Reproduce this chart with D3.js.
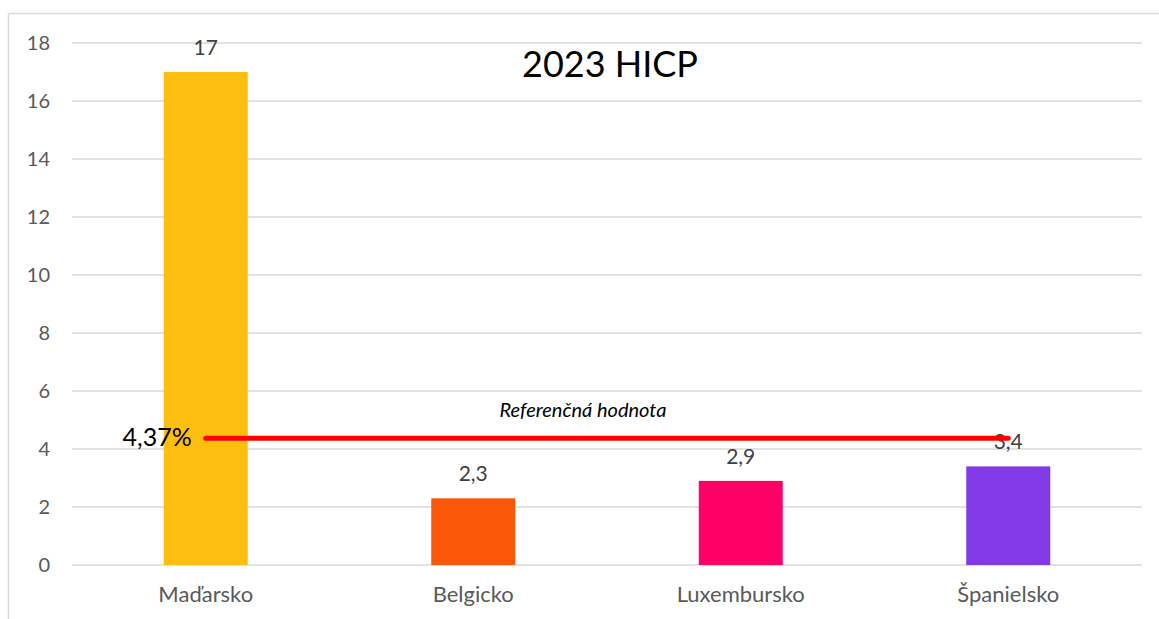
<!DOCTYPE html>
<html><head><meta charset="utf-8">
<script src="https://cdn.jsdelivr.net/npm/d3@7"></script>
<style>body{margin:0;background:#fff;} text{font-family:Lato,"Noto Sans",sans-serif;}</style>
</head><body>
<svg id="c" width="1159" height="619"></svg>
<script>
const categories = ["Maďarsko","Belgicko","Luxembursko","Španielsko"];
const values = [17, 2.3, 2.9, 3.4];
const valueLabels = ["17","2,3","2,9","3,4"];
const colors = ["#FEBE10","#FC580C","#FF0066","#8239E8"];
const yTicks = [0,2,4,6,8,10,12,14,16,18];
const referenceValue = 4.37;
const referenceLabel = "4,37%";
const referenceText = "Referenčná hodnota";
const title = "2023 HICP";

(function(){
const svg = d3.select("#c");
svg.append("line").attr("x1",8.5).attr("x2",1159).attr("y1",13.5).attr("y2",13.5).attr("stroke","#d9d9d9").attr("stroke-width",1.5);
svg.append("line").attr("x1",8.5).attr("x2",8.5).attr("y1",13.5).attr("y2",619).attr("stroke","#d9d9d9").attr("stroke-width",1.5);

const pLeft=72, pRight=1142, pTop=43, pBottom=565;
const x = d3.scaleBand().domain(categories).range([pLeft,pRight]).paddingInner(0.686).paddingOuter(0.343);
const y = d3.scaleLinear().domain([0,18]).range([pBottom,pTop]);

svg.append("g").selectAll("line").data(yTicks).join("line")
  .attr("x1",pLeft).attr("x2",pRight).attr("y1",d=>y(d)).attr("y2",d=>y(d))
  .attr("stroke","#d9d9d9").attr("stroke-width",1.5);

const yAxis = d3.axisLeft(y).tickValues(yTicks).tickSize(0).tickPadding(0);
const ga = svg.append("g").attr("transform",`translate(50,0)`).call(yAxis);
ga.select(".domain").remove();
ga.selectAll("text").attr("fill","#595959").style("font-size","20px").style("font-family","Lato,'Noto Sans',sans-serif");

const xAxis = d3.axisBottom(x).tickSize(0).tickPadding(0);
const gx = svg.append("g").attr("transform",`translate(0,${pBottom})`).call(xAxis);
gx.select(".domain").remove();
gx.selectAll("text").attr("fill","#595959").attr("dy",null).attr("y",37).style("font-size","22px").style("font-family","Lato,'Noto Sans',sans-serif");

const data = categories.map((c,i)=>({c,v:values[i],l:valueLabels[i],col:colors[i]}));
svg.append("g").selectAll("rect").data(data).join("rect")
  .attr("x",d=>x(d.c)).attr("width",x.bandwidth())
  .attr("y",d=>y(d.v)).attr("height",d=>y(0)-y(d.v)).attr("fill",d=>d.col);

svg.append("g").selectAll("text").data(data).join("text")
  .attr("x",d=>x(d.c)+x.bandwidth()/2).attr("y",d=>y(d.v)-17)
  .attr("text-anchor","middle").attr("fill","#404040").style("font-size","21px").text(d=>d.l);

const x0 = x(categories[0])+x.bandwidth()/2, x1 = x(categories[categories.length-1])+x.bandwidth()/2;
svg.append("line").attr("x1",x0).attr("x2",x1).attr("y1",y(referenceValue)).attr("y2",y(referenceValue))
  .attr("stroke","#FF0000").attr("stroke-width",5).attr("stroke-linecap","round");
svg.append("text").attr("x",x0-14).attr("y",y(referenceValue)+8).attr("text-anchor","end")
  .attr("fill","#000").style("font-size","25px").text(referenceLabel);
svg.append("text").attr("x",583).attr("y",y(referenceValue)-21).attr("text-anchor","middle")
  .attr("fill","#000").style("font-size","20px").style("font-style","italic").text(referenceText);

svg.append("text").attr("x",610).attr("y",77).attr("text-anchor","middle")
  .attr("fill","#000").style("font-size","36px").text(title);
})();
</script>
</body></html>
